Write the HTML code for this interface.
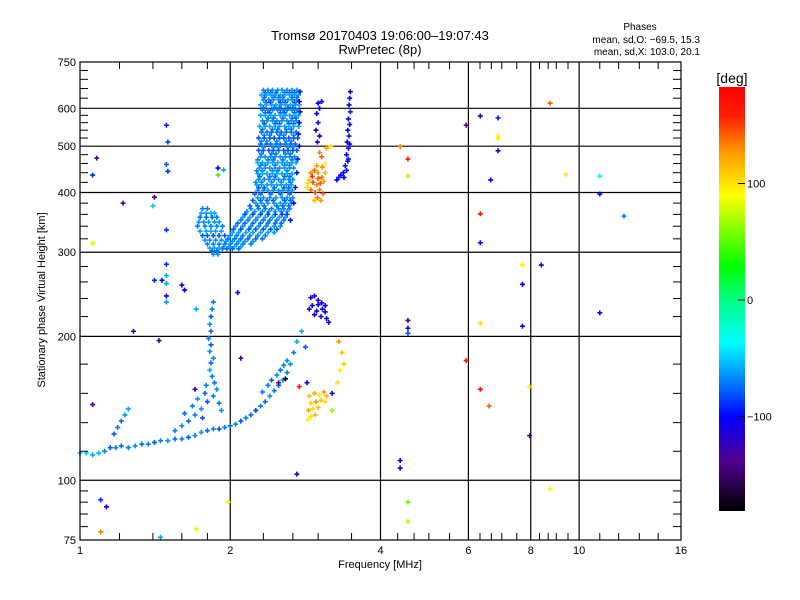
<!DOCTYPE html>
<html><head><meta charset="utf-8">
<style>
html,body{margin:0;padding:0;background:#fff;}
svg{display:block;font-family:"Liberation Sans",sans-serif;}
</style></head>
<body>
<svg id="chart" width="800" height="600" viewBox="0 0 800 600" xmlns="http://www.w3.org/2000/svg">
<defs>
<linearGradient id="cbar" x1="0" y1="1" x2="0" y2="0">
<stop offset="0" stop-color="#000000"/>
<stop offset="0.12" stop-color="#500090"/>
<stop offset="0.222" stop-color="#0000ff"/>
<stop offset="0.306" stop-color="#0080ff"/>
<stop offset="0.397" stop-color="#00ffff"/>
<stop offset="0.5" stop-color="#00ff80"/>
<stop offset="0.578" stop-color="#00ff00"/>
<stop offset="0.744" stop-color="#ffff00"/>
<stop offset="0.847" stop-color="#ff9900"/>
<stop offset="0.93" stop-color="#ff2000"/>
<stop offset="1" stop-color="#ff0000"/>
</linearGradient>
</defs>
<rect width="800" height="600" fill="#fff"/>
<text x="380" y="40" text-anchor="middle" font-size="13">Tromsø 20170403 19:06:00–19:07:43</text>
<text x="380" y="54" text-anchor="middle" font-size="13">RwPretec (8p)</text>
<text x="640" y="30" text-anchor="middle" font-size="10">Phases</text>
<text x="700" y="43" text-anchor="end" font-size="10">mean, sd,O: −69.5, 15.3</text>
<text x="700" y="55" text-anchor="end" font-size="10">mean, sd,X: 103.0, 20.1</text>
<text x="45" y="300" text-anchor="middle" font-size="11" transform="rotate(-90 45 300)">Stationary phase Virtual Height [km]</text>
<text x="380" y="568" text-anchor="middle" font-size="11">Frequency [MHz]</text>
<g id="grid"></g>
<g id="marks"></g>
<rect x="80" y="62" width="601" height="478" fill="none" stroke="#000" stroke-width="1.2"/>
<g id="ticks"></g>
<rect x="719" y="87" width="26" height="424" fill="url(#cbar)"/>
<text x="732" y="83" text-anchor="middle" font-size="14">[deg]</text>
<g id="cbticks"></g>
</svg>
<script>
// ---- axis data ----
const xTickLabels=[1,2,4,6,8,10,16];
const xMinorTicks=[1.2,1.4,1.6,1.8,2.33,2.67,3,3.5,4.33,4.67,5,5.5,6.33,6.67,7,7.5,8.33,8.67,9,9.5,11,12,13.2,14.4];
const yTickLabels=[75,100,200,300,400,500,600,750];
const yGrid=[100,200,300,400,500,600];
const yMinorTicks=[80,85,90,95,115,132,152,175,220,240,260,280,320,340,360,380,420,440,460,480,520,540,560,580,630,660,690,720];
const cbLabels=[100,0,-100];

// ---- main F-region cloud (rows) ----
const rowH=[655,647,640,632,625,617,610,602,595,587,580,572,565,557,550,542,535,527,520,512,505,497,490,482,475,468,462,456,450,444,438,432,426,420,415,409,404,397,390,385,380,375,370,365,360,355,350,345,340,335,330,325,320,316,312,308,305,370,362,355,347,340,332,325,318,312,306,302,297];
const rowP=[-65,-80,-60,-75,-65,-85,-60,-75,-70,-80,-60,-75,-65,-80,-60,-70,-75,-65,-80,-65,-75,-60,-80,-70,-65,-75,-60,-70,-65,-70,-60,-75,-65,-70,-60,-80,-65,-75,-65,-80,-60,-75,-70,-65,-85,-60,-70,-75,-65,-80,-60,-70,-75,-65,-70,-60,-75,-70,-60,-75,-65,-70,-60,-80,-65,-70,-60,-75,-65];
const rowF=[
[2.33,2.38,2.43,2.49,2.54,2.6,2.66,2.72],
[2.35,2.41,2.47,2.57,2.63,2.69],
[2.31,2.36,2.41,2.46,2.52,2.57,2.63,2.69,2.74],
[2.34,2.44,2.5,2.55,2.66,2.72],
[2.33,2.39,2.44,2.5,2.55,2.61,2.66,2.72],
[2.36,2.41,2.52,2.58,2.69],
[2.30,2.36,2.42,2.47,2.53,2.58,2.64,2.7,2.75],
[2.33,2.45,2.51,2.61,2.67],
[2.32,2.38,2.43,2.49,2.55,2.6,2.66,2.72],
[2.35,2.4,2.52,2.57,2.69],
[2.30,2.35,2.41,2.46,2.52,2.58,2.63,2.69,2.74],
[2.38,2.44,2.55,2.66,2.71],
[2.32,2.37,2.43,2.48,2.54,2.6,2.65,2.71],
[2.34,2.46,2.51,2.62,2.68],
[2.29,2.35,2.4,2.46,2.51,2.57,2.62,2.68,2.74],
[2.32,2.43,2.49,2.59,2.65],
[2.31,2.37,2.42,2.48,2.53,2.59,2.65,2.71],
[2.34,2.4,2.51,2.56,2.68],
[2.28,2.34,2.4,2.45,2.51,2.56,2.62,2.68,2.73],
[2.31,2.37,2.48,2.59,2.65],
[2.3,2.36,2.41,2.47,2.52,2.58,2.64,2.7],
[2.33,2.44,2.5,2.61,2.67],
[2.28,2.33,2.39,2.44,2.5,2.56,2.61,2.67,2.72],
[2.31,2.42,2.47,2.58,2.64],
[2.3,2.35,2.41,2.46,2.52,2.58,2.63,2.69],
[2.27,2.38,2.44,2.55,2.66],
[2.27,2.32,2.38,2.43,2.49,2.54,2.6,2.66,2.71],
[2.3,2.35,2.46,2.57,2.63],
[2.29,2.35,2.4,2.46,2.51,2.57,2.63,2.68],
[2.26,2.32,2.43,2.49,2.6],
[2.27,2.32,2.37,2.43,2.48,2.54,2.6,2.66],
[2.29,2.4,2.46,2.57,2.63],
[2.28,2.34,2.39,2.45,2.5,2.56,2.62,2.67],
[2.25,2.31,2.42,2.53,2.64],
[2.26,2.31,2.37,2.42,2.48,2.53,2.59,2.65],
[2.28,2.34,2.45,2.56,2.62],
[2.27,2.33,2.38,2.44,2.5,2.55,2.61,2.66],
[2.24,2.3,2.41,2.52,2.63],
[2.27,2.33,2.4,2.47,2.54,2.6,2.67],
[2.22,2.3,2.37,2.44,2.57,2.64],
[2.25,2.31,2.38,2.45,2.52,2.58,2.65],
[2.19,2.27,2.34,2.48,2.55,2.62],
[2.2,2.28,2.35,2.42,2.5,2.56,2.63],
[2.16,2.24,2.32,2.39,2.46,2.53,2.6],
[2.14,2.22,2.3,2.38,2.46,2.54,2.6],
[2.12,2.19,2.27,2.35,2.43,2.51,2.58],
[2.1,2.17,2.25,2.33,2.4,2.48,2.56],
[2.07,2.14,2.22,2.3,2.38,2.46,2.53],
[2.05,2.12,2.2,2.28,2.36,2.45,2.52],
[2.03,2.1,2.18,2.25,2.33,2.41,2.48],
[2.02,2.08,2.15,2.22,2.3,2.38,2.45],
[2.0,2.06,2.12,2.19,2.27,2.35],
[1.98,2.04,2.1,2.17,2.25,2.32],
[1.96,2.02,2.08,2.14,2.22],
[1.95,2.0,2.06,2.12,2.2],
[1.94,1.99,2.04,2.1],
[1.93,1.97,2.02,2.08],
[1.76,1.8],
[1.75,1.79,1.83,1.86],
[1.74,1.79,1.84,1.88],
[1.73,1.77,1.81,1.86,1.9],
[1.72,1.78,1.83,1.88,1.93],
[1.74,1.79,1.83,1.87,1.92],
[1.76,1.8,1.85,1.9,1.95],
[1.78,1.82,1.87,1.92],
[1.8,1.85,1.9],
[1.82,1.86,1.9],
[1.84,1.88],
[1.85,1.89]
];

// ---- other traces [freq MHz, height km, phase deg] ----
const darkEdge=[[2.76,650,-95],[2.75,620,-100],[2.76,590,-95],[2.75,560,-100],[2.74,530,-95],[2.75,500,-100],[2.73,470,-95],[2.72,440,-100],[2.7,410,-95],[2.68,380,-100],[2.64,350,-95]];
const lowTrace=[[1.0,114,-55],[1.03,114,-50],[1.06,113,-60],[1.09,114,-55],[1.12,115,-70],[1.15,117,-80],[1.18,117,-70],[1.21,118,-75],[1.25,117,-70],[1.29,118,-65],[1.33,119,-75],[1.37,119,-70],[1.41,120,-80],[1.45,121,-70],[1.5,121,-65],[1.55,122,-75],[1.6,122,-70],[1.65,123,-80],[1.7,124,-70],[1.75,126,-65],[1.8,127,-75],[1.85,128,-70],[1.9,128,-80],[1.95,129,-70],[2.0,130,-75],[2.05,131,-70],[2.1,133,-80],[2.15,135,-70],[2.2,137,-75],[2.25,140,-85],[2.3,143,-70],[2.35,146,-75],[2.4,150,-65],[2.45,154,-70],[2.5,158,-80],[2.55,162,-65],[2.6,168,-70],[2.64,175,-65],[2.68,185,-70],[2.72,195,-60]];
const hookTrace=[[1.17,125,-80],[1.19,129,-70],[1.21,133,-75],[1.23,137,-65],[1.25,141,-60]];
const secondTrace=[[1.55,127,-70],[1.6,130,-65],[1.65,133,-75],[1.7,137,-70],[1.75,141,-65],[1.8,146,-80],[1.85,150,-70],[1.88,155,-65],[1.86,160,-75],[1.84,165,-70],[1.82,170,-60],[1.83,176,-75],[1.85,180,-70],[1.82,186,-65],[1.83,192,-80],[1.81,198,-70],[1.83,205,-75],[1.82,212,-65],[1.83,220,-80],[1.84,228,-70],[1.85,236,-75],[1.62,138,-75],[1.68,143,-70],[1.72,148,-65],[1.78,152,-75],[1.9,145,-70],[1.92,140,-65],[1.76,135,-80],[1.7,155,-120],[1.79,158,-70]];
const branchTrace=[[2.32,153,-75],[2.38,158,-70],[2.42,162,-80],[2.48,166,-65],[2.52,170,-75],[2.56,174,-70],[2.6,178,-65],[2.5,160,-140],[2.58,163,-180]];
const orangeCluster=[[2.9,440,130],[2.95,445,140],[3.0,440,125],[3.05,430,135],[2.88,425,110],[2.93,420,145],[2.98,415,130],[3.03,418,140],[3.08,422,120],[2.85,410,100],[2.9,405,135],[2.96,400,145],[3.02,405,130],[3.07,398,140],[2.99,390,135],[3.04,385,125],[2.95,385,110],[3.1,460,90],[3.05,475,140],[3.02,485,130],[3.12,495,120],[3.18,500,100],[2.98,455,125],[3.06,452,130],[3.1,440,115],[2.92,432,150],[3.0,428,140],[2.86,418,95]];
const blueColumn=[[3.48,650,-100],[3.47,630,-105],[3.46,610,-100],[3.48,590,-95],[3.45,570,-100],[3.47,555,-105],[3.44,540,-100],[3.46,525,-95],[3.43,510,-100],[3.45,495,-105],[3.42,480,-100],[3.44,465,-95],[3.4,455,-100],[3.42,445,-95],[3.37,440,-100],[3.33,435,-105],[3.3,430,-95],[3.27,425,-100],[3.38,430,-100],[3.45,470,-95],[3.47,505,-100],[3.0,615,-100],[3.02,600,-105],[2.98,585,-100],[3.0,560,-95],[2.97,540,-110],[3.02,525,-100],[2.99,510,-120],[3.05,620,-95]];
const blueLowCluster=[[2.9,241,-110],[2.95,243,-100],[3.0,238,-115],[2.92,232,-100],[3.0,233,-105],[3.05,235,-100],[2.98,226,-110],[3.06,228,-100],[3.1,225,-105],[2.95,222,-100],[3.04,220,-110],[3.12,218,-100],[3.15,214,-105],[2.88,228,-120],[3.1,232,-100]];
const yellowCluster=[[2.88,150,110],[2.95,152,120],[3.02,151,100],[3.08,153,125],[3.12,150,115],[2.9,145,105],[2.97,146,125],[3.04,147,110],[3.1,146,100],[2.87,140,120],[2.93,141,100],[3.0,142,110],[2.9,136,100],[2.96,137,115],[2.86,134,95],[3.3,195,125],[3.35,185,110],[3.38,175,105],[3.32,170,95],[3.28,160,100],[3.2,140,60],[2.75,157,160]];
const sparsePoints=[[1.49,553,-95],[1.5,510,-85],[1.49,458,-80],[1.5,443,-90],[1.89,450,-100],[1.89,435,40],[1.94,446,-60],[1.08,472,-140],[1.06,435,-90],[1.22,380,-130],[1.41,391,-130],[1.4,375,-50],[1.49,334,-90],[1.06,313,80],[1.49,283,-90],[1.49,268,-60],[1.41,262,-90],[1.46,262,-100],[1.49,258,-60],[1.6,256,-110],[1.62,250,-100],[1.71,228,-60],[1.49,243,-110],[1.49,236,-60],[1.28,205,-120],[1.06,144,-130],[1.44,196,-140],[2.07,247,-110],[8.75,615,140],[6.34,578,-110],[6.88,573,-95],[5.94,553,-140],[6.88,525,90],[6.88,519,95],[4.38,499,130],[4.54,470,155],[6.88,489,-110],[4.54,433,70],[6.65,425,-100],[9.4,436,95],[11.0,433,-40],[11.0,397,-100],[12.3,357,-70],[6.34,361,165],[6.34,314,-110],[7.7,282,95],[8.4,282,-120],[7.7,257,-100],[11.0,224,-100],[4.54,216,-140],[4.54,208,-100],[4.54,203,-80],[7.7,210,-100],[6.34,213,100],[5.94,178,165],[6.34,155,165],[6.6,143,140],[7.96,124,-140],[7.96,157,95],[4.38,110,-100],[4.38,106,-100],[4.54,90,50],[4.54,82,70],[8.75,96,85],[1.1,91,-90],[1.13,88,-110],[1.1,78,130],[1.45,76,-60],[1.71,79,80],[1.98,90,90],[2.72,103,-110],[3.2,152,-105],[2.85,160,-100],[2.83,190,-80],[2.78,205,-60],[2.1,180,-140]];

// ---- scales ----
const X0=80,X1=681,Y0=540,Y1=62;
function xs(f){return X0+(X1-X0)*Math.log2(f)/4;}
function ys(h){return Y0-(Y0-Y1)*Math.log10(h/75);}
const stopsP=[-181,-137,-100,-70,-37,0,28,88,125,155,180];
const stopsC=[[0,0,0],[80,0,144],[0,0,255],[0,128,255],[0,255,255],[0,255,128],[0,255,0],[255,255,0],[255,153,0],[255,32,0],[255,0,0]];
function col(p){
  if(p<=stopsP[0])return 'rgb(0,0,0)';
  for(let i=1;i<stopsP.length;i++){
    if(p<=stopsP[i]){const t=(p-stopsP[i-1])/(stopsP[i]-stopsP[i-1]);const a=stopsC[i-1],b=stopsC[i];
      return 'rgb('+a.map((v,k)=>Math.round(v+(b[k]-v)*t)).join(',')+')';}
  }
  return 'rgb(255,0,0)';
}
const NS='http://www.w3.org/2000/svg';
function mk(tag,attrs,parent){const e=document.createElementNS(NS,tag);for(const k in attrs)e.setAttribute(k,attrs[k]);parent.appendChild(e);return e;}
const grid=document.getElementById('grid'),marks=document.getElementById('marks'),ticks=document.getElementById('ticks'),cbt=document.getElementById('cbticks');

xTickLabels.slice(1,-1).forEach(f=>{
  const l=mk('line',{x1:xs(f),x2:xs(f),y1:Y1,y2:Y0,stroke:'#000','stroke-width':1.2},grid);
  
  
});
yGrid.forEach(h=>{
  const l=mk('line',{x1:X0,x2:X1,y1:ys(h),y2:ys(h),stroke:'#000','stroke-width':1.2},grid);
  
  
});
xMinorTicks.forEach(f=>{
  const x=xs(f);
  const a=mk('line',{x1:x,x2:x,y1:Y0,y2:Y0-7,stroke:'#000'},ticks);
  
  
  const b=mk('line',{x1:x,x2:x,y1:Y1,y2:Y1+7,stroke:'#000'},ticks);
  
  
});
xTickLabels.forEach(f=>{
  const t=mk('text',{x:xs(f),y:554,'text-anchor':'middle','font-size':11},ticks);
  t.textContent=f;
  
  
});
yMinorTicks.forEach(h=>{
  const y=ys(h);
  const a=mk('line',{x1:X0,x2:X0+8,y1:y,y2:y,stroke:'#000'},ticks);
  
  
  const b=mk('line',{x1:X1-8,x2:X1,y1:y,y2:y,stroke:'#000'},ticks);
  
  
});
yTickLabels.forEach(h=>{
  const t=mk('text',{x:76,y:ys(h)+4,'text-anchor':'end','font-size':11},ticks);
  t.textContent=h;
  
  
});
cbLabels.forEach(p=>{
  const y=300-p*1.165;
  const l=mk('line',{x1:738,x2:745,y1:y,y2:y,stroke:'#000'},cbt);
  
  
  const t=mk('text',{x:747,y:y+4,'font-size':11},cbt);
  t.textContent=p<0?'−'+(-p):p;
  
  
});
function plus(f,h,p,name){
  const x=xs(f),y=ys(h);
  const e=mk('path',{d:'M'+(x-2.5)+' '+y+'H'+(x+2.5)+'M'+x+' '+(y-2.5)+'V'+(y+2.5),stroke:col(p),'stroke-width':1.6,fill:'none'},marks);
  
  
}
rowH.forEach((h,i)=>{rowF[i].forEach(f=>plus(f,h,rowP[i],'f-cloud-point'));});
darkEdge.forEach(d=>plus(d[0],d[1],d[2],'f-cloud-edge-point'));
lowTrace.forEach(d=>plus(d[0],d[1],d[2],'low-trace-point'));
hookTrace.forEach(d=>plus(d[0],d[1],d[2],'hook-trace-point'));
secondTrace.forEach(d=>plus(d[0],d[1],d[2],'second-trace-point'));
branchTrace.forEach(d=>plus(d[0],d[1],d[2],'branch-trace-point'));
orangeCluster.forEach(d=>plus(d[0],d[1],d[2],'x-mode-cluster-point'));
blueColumn.forEach(d=>plus(d[0],d[1],d[2],'blue-column-point'));
blueLowCluster.forEach(d=>plus(d[0],d[1],d[2],'blue-low-cluster-point'));
yellowCluster.forEach(d=>plus(d[0],d[1],d[2],'yellow-cluster-point'));
sparsePoints.forEach(d=>plus(d[0],d[1],d[2],'sparse-echo-point'));
</script>
</body></html>
